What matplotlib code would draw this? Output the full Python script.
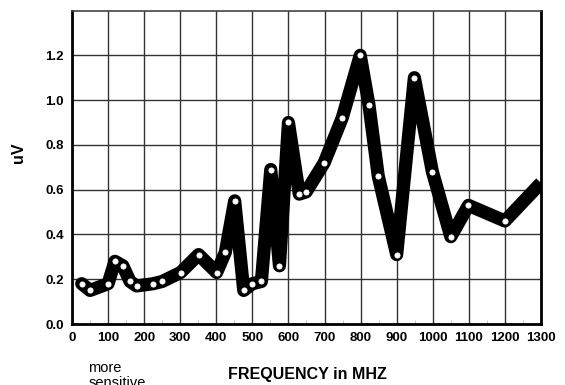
import matplotlib
matplotlib.use("Agg")
import matplotlib.pyplot as plt
import numpy as np

plt.rcParams['font.family'] = ['Liberation Sans', 'DejaVu Sans']

# frequency (MHz) and sensitivity (uV)
freq = [27, 50, 100, 119, 141, 161, 179, 225, 250, 301, 351, 401, 425, 451,
        476, 500, 525, 551, 575, 600, 630, 649, 699, 749, 799, 823, 849, 900,
        949, 999, 1050, 1099, 1200, 1300]
uv = [0.18, 0.15, 0.18, 0.28, 0.26, 0.19, 0.17, 0.18, 0.19, 0.23, 0.31, 0.23,
      0.32, 0.55, 0.15, 0.18, 0.19, 0.69, 0.26, 0.90, 0.58, 0.59, 0.72, 0.92,
      1.20, 0.98, 0.66, 0.31, 1.10, 0.68, 0.39, 0.53, 0.46, 0.63]

x_ticks = list(range(0, 1301, 100))
y_ticks = [0.0, 0.2, 0.4, 0.6, 0.8, 1.0, 1.2]

fig = plt.figure(figsize=(5.65, 3.85), dpi=100)
ax = fig.add_axes([0.1274, 0.1584, 0.8301, 0.8143])

ax.plot(freq[:-1], uv[:-1], color='black', lw=9.5, solid_joinstyle='round',
        solid_capstyle='round', zorder=3)
ax.plot(freq[-2:], uv[-2:], color='black', lw=9.5, solid_capstyle='butt',
        zorder=3)
ax.plot(freq[:-1], uv[:-1], 'o', ms=3.8, mfc='white', mec='white', mew=0.5,
        zorder=4)

ax.set_xlim(0, 1300)
ax.set_ylim(0, 1.4)
ax.set_xticks(x_ticks)
ax.set_xticks(np.arange(50, 1300, 100), minor=True)
ax.set_yticks(y_ticks)
ax.set_yticklabels([f"{v:.1f}" for v in y_ticks])
ax.grid(True, which='major', color='#333333', lw=1.0)
ax.set_axisbelow(True)

ax.tick_params(axis='both', which='major', length=0, pad=6, labelsize=9.5)
ax.tick_params(axis='x', which='minor', length=3, color='#bbbbbb', direction='in')
for lbl in ax.get_xticklabels() + ax.get_yticklabels():
    lbl.set_fontweight('bold')

for side in ['left', 'bottom', 'right']:
    ax.spines[side].set_linewidth(2)
ax.spines['top'].set_linewidth(1.2)
ax.spines['top'].set_color('#444444')

ax.set_ylabel('uV', fontsize=11.5, fontweight='bold')
ax.yaxis.set_label_coords(-0.098, 0.545)
fig.text(0.544, 0.028, 'FREQUENCY in MHZ', fontsize=11.5, fontweight='bold',
         ha='center', va='center')
fig.text(0.156, 1 - 361 / 385, 'more\nsensitive', fontsize=10.5, ha='left',
         va='top', linespacing=1.05)

fig.savefig('out.png', dpi=100)
